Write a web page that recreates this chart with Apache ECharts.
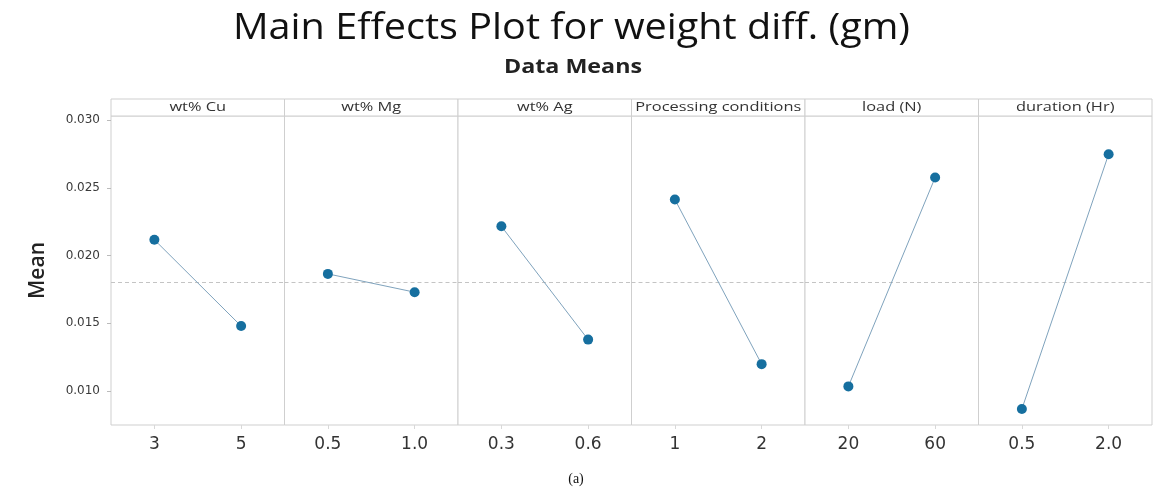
<!DOCTYPE html>
<html>
<head>
<meta charset="utf-8">
<script src="https://cdn.jsdelivr.net/npm/echarts@6/dist/echarts.min.js"></script>
<style>html,body{margin:0;padding:0;background:#fff;}#chart{width:1153px;height:490px;}</style>
</head>
<body>
<div id="chart"></div>
<script>
// ---- data ----
const titleText = 'Main Effects Plot for weight diff. (gm)';
const subtitleText = 'Data Means';
const factors = ['wt% Cu', 'wt% Mg', 'wt% Ag', 'Processing conditions', 'load (N)', 'duration (Hr)'];
const levelsCu = ['3', '5'];
const levelsMg = ['0.5', '1.0'];
const levelsAg = ['0.3', '0.6'];
const levelsProc = ['1', '2'];
const levelsLoad = ['20', '60'];
const levelsDur = ['0.5', '2.0'];
const meansCu = [0.02117, 0.01480];
const meansMg = [0.01865, 0.01730];
const meansAg = [0.02216, 0.01380];
const meansProc = [0.02414, 0.01199];
const meansLoad = [0.01035, 0.02576];
const meansDur = [0.00868, 0.02748];
const overallMean = 0.01802;
const yTickValues = [0.010, 0.015, 0.020, 0.025, 0.030];

const levels = [levelsCu, levelsMg, levelsAg, levelsProc, levelsLoad, levelsDur];
const means = [meansCu, meansMg, meansAg, meansProc, meansLoad, meansDur];

// ---- layout ----
const plotLeft = 111, plotRight = 1152, plotTop = 116, plotBottom = 425;
const stripTop = 99;
const n = factors.length;
const pw = (plotRight - plotLeft) / n;
const sans = '"Open Sans", "Noto Sans", sans-serif';
const dv = '"DejaVu Sans", sans-serif';

const mctx = document.createElement('canvas').getContext('2d');
function fitScale(text, font, target) { mctx.font = font; return target / mctx.measureText(text).width; }

const titleFont = '37px ' + sans;
const subFont = 'bold 20px ' + sans;
const headFont = '13px ' + sans;
const titleScale = fitScale(titleText, titleFont, 677);
const subScale = fitScale(subtitleText, subFont, 138);
const headScale = fitScale(factors[3], headFont, 166);

const grids = [], xAxes = [], yAxes = [], series = [], graphics = [];
for (let i = 0; i < n; i++) {
  const left = plotLeft + i * pw;
  grids.push({left: left, top: plotTop, width: pw, height: plotBottom - plotTop,
    show: true, borderColor: '#cfcfcf', borderWidth: 1, backgroundColor: '#fff'});
  xAxes.push({type: 'category', gridIndex: i, data: levels[i], boundaryGap: true,
    axisLine: {show: false},
    axisTick: {show: true, alignWithLabel: true, length: 4, lineStyle: {color: '#d8d8d8'}},
    axisLabel: {fontFamily: dv, fontSize: 17, color: '#333', margin: 11},
    splitLine: {show: false}});
  yAxes.push({type: 'value', gridIndex: i, min: 0.0075, max: 0.0303,
    show: i === 0,
    name: i === 0 ? 'Mean' : '', nameLocation: 'middle', nameGap: 62,
    nameTextStyle: {fontFamily: sans, fontSize: 21, fontWeight: 600, color: '#222'},
    axisLine: {show: false},
    axisTick: {show: true, length: 4, customValues: yTickValues, lineStyle: {color: '#bbb'}},
    axisLabel: {customValues: yTickValues, fontFamily: dv, fontSize: 12, color: '#3a3a3a', margin: 11,
      formatter: v => v.toFixed(3)},
    splitLine: {show: false}});
  series.push({type: 'line', xAxisIndex: i, yAxisIndex: i, data: means[i],
    symbol: 'circle', symbolSize: 10,
    itemStyle: {color: '#166f9f'},
    lineStyle: {color: '#7fa3bd', width: 1},
    z: 5,
    markLine: {silent: true, symbol: 'none', precision: 6, label: {show: false},
      lineStyle: {color: '#c4c4c4', type: [4, 3], width: 1},
      data: [{yAxis: overallMean}], z: 1},
    animation: false});
  graphics.push({type: 'rect', shape: {x: left, y: stripTop, width: pw, height: plotTop - stripTop},
    style: {fill: '#fff', stroke: '#cfcfcf', lineWidth: 1}});
  graphics.push({type: 'text', x: left + pw / 2, y: stripTop + (plotTop - stripTop) / 2, scaleX: headScale,
    style: {text: factors[i], font: headFont, fill: '#333', textAlign: 'center', textVerticalAlign: 'middle'}});
}
graphics.push({type: 'text', x: 571.5, y: 28, scaleX: titleScale,
  style: {text: titleText, font: titleFont, fill: '#111', textAlign: 'center', textVerticalAlign: 'middle'}});
graphics.push({type: 'text', x: 573, y: 67, scaleX: subScale,
  style: {text: subtitleText, font: subFont, fill: '#222', textAlign: 'center', textVerticalAlign: 'middle'}});
graphics.push({type: 'text', x: 576, y: 479,
  style: {text: '(a)', font: '14px "Liberation Serif", serif', fill: '#111', textAlign: 'center', textVerticalAlign: 'middle'}});

const chart = echarts.init(document.getElementById('chart'), null, {renderer: 'canvas'});
chart.setOption({
  animation: false,
  backgroundColor: '#fff',
  grid: grids, xAxis: xAxes, yAxis: yAxes, series: series, graphic: graphics
});
</script>
</body>
</html>
